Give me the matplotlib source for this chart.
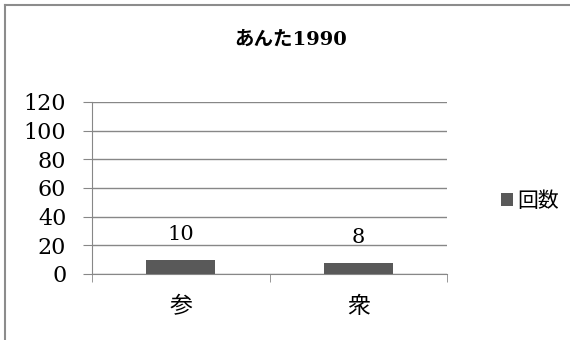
import matplotlib
matplotlib.use("Agg")
import matplotlib.pyplot as plt
from matplotlib.lines import Line2D

# data
categories = ["参", "衆"]
counts = [10, 8]
series_name = "回数"
title = "あんた1990"
y_ticks = [0, 20, 40, 60, 80, 100, 120]

plt.rcParams['font.family'] = ['DejaVu Serif', 'Noto Sans CJK JP', 'DejaVu Sans']

fig = plt.figure(figsize=(5.7, 3.4), dpi=100)
ax = fig.add_axes([92 / 570, 1 - 274 / 340, (447 - 92) / 570, (274 - 102) / 340])

# outer chart border (only top and left edges are visible)
bx, by = 5 / 570, 1 - 5 / 340
fig.lines.append(Line2D([bx, 1], [by, by], transform=fig.transFigure,
                        color='#8c8c8c', linewidth=1.5))
fig.lines.append(Line2D([bx, bx], [0, by], transform=fig.transFigure,
                        color='#8c8c8c', linewidth=1.5))

x = list(range(len(categories)))
ax.bar(x, counts, width=0.39, color='#595959', label=series_name, zorder=3)
for xi, v in zip(x, counts):
    ax.annotate(str(v), (xi, v), xytext=(0, 11), textcoords='offset points',
                ha='center', va='bottom', fontsize=15)

ax.set_xlim(-0.5, len(categories) - 0.5)
ax.set_ylim(0, 120)
ax.set_yticks(y_ticks)
ax.tick_params(axis='y', labelsize=16, length=6.5, color='#878787', pad=12)
ax.grid(axis='y', color='#878787', linewidth=1, zorder=0)

ax.set_xticks(x)
ax.set_xticklabels(categories, fontsize=16.5)
ax.set_xticks([i - 0.5 for i in range(len(categories) + 1)], minor=True)
ax.tick_params(axis='x', which='major', length=0, pad=16)
ax.tick_params(axis='x', which='minor', length=6, color='#878787')

for s in ['top', 'right']:
    ax.spines[s].set_visible(False)
for s in ['left', 'bottom']:
    ax.spines[s].set_color('#878787')

fig.text(291 / 570, 1 - 40 / 340, title, ha='center', va='center',
         fontsize=14, fontweight='bold')

fig.legend(loc='center left', bbox_to_anchor=(482 / 570, 1 - 201 / 340), frameon=False,
           fontsize=15, handlelength=0.58, handleheight=0.58, handletextpad=0.2)

fig.savefig("out.png", dpi=100)
